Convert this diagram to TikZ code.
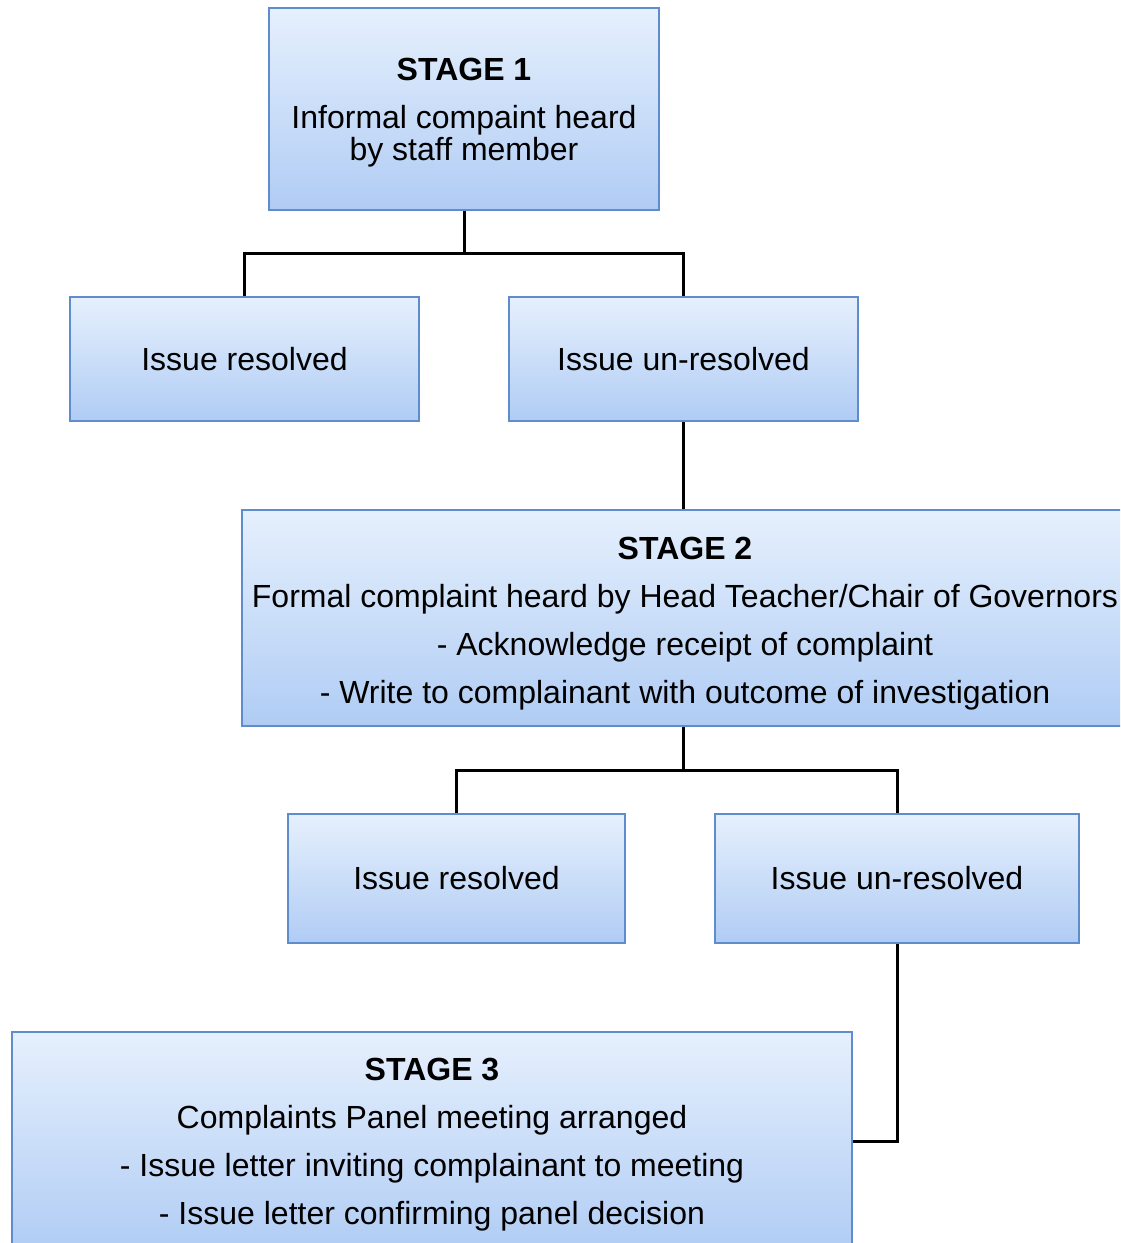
\documentclass[tikz,border=0pt]{standalone}
\usepackage{fontspec}
\setmainfont{Liberation Sans}
\usetikzlibrary{positioning}

\definecolor{boxtop}{RGB}{230,240,253}
\definecolor{boxbottom}{RGB}{176,204,244}
\definecolor{boxline}{RGB}{95,140,205}

\newcommand{\topgap}[1]{\rule{0pt}{#1}}

\begin{document}
\begin{tikzpicture}[x = 1pt, y = 1pt, node distance = 2cm, on grid,
	stagebox/.style={draw = boxline, line width = 2pt, top color = boxtop, bottom color = boxbottom, inner sep = 0pt, align = center, font = \fontsize{32}{48}\selectfont},
	link/.style={line width = 3pt, black}]
	\useasboundingbox (0,0) rectangle (1120,1243);
	\clip (0,0) rectangle (1120,1243);
	
	% stage 1
	\node[stagebox, minimum width = 390pt, minimum height = 202pt, font = \fontsize{32}{32}\selectfont] (S1) at (464,1134) {\topgap{30pt}\textbf{STAGE 1}\\[16pt]Informal compaint heard\\by staff member};
	\node[stagebox, minimum width = 349pt, minimum height = 124pt, below left = 250pt and 219.5pt of S1] (R1) {Issue resolved};
	\node[stagebox, minimum width = 349pt, minimum height = 124pt, right = 439pt of R1] (U1) {Issue un-resolved};
	
	% stage 2
	\node[stagebox, minimum width = 886pt, minimum height = 216pt] (S2) at (685,625) {\topgap{34pt}\textbf{STAGE 2}\\Formal complaint heard by Head Teacher/Chair of Governors\\- Acknowledge receipt of complaint\\- Write to complainant with outcome of investigation};
	\node[stagebox, minimum width = 337pt, minimum height = 129pt] (R2) at (456.5,364.5) {Issue resolved};
	\node[stagebox, minimum width = 364pt, minimum height = 129pt, right = 440.5pt of R2] (U2) {Issue un-resolved};
	
	% stage 3
	\node[stagebox, minimum width = 840pt, minimum height = 220pt] (S3) at (432,101) {\topgap{28pt}\textbf{STAGE 3}\\Complaints Panel meeting arranged\\- Issue letter inviting complainant to meeting\\- Issue letter confirming panel decision};
	
	\coordinate (J1) at (464,989);
	\coordinate (J2) at (683,472);
	
	\draw[link] (S1.south) -- (J1) -| (R1.north);
	\draw[link] (J1) -| (U1.north);
	\draw[link] (U1.south) -- (U1.south |- S2.north);
	\draw[link] (S2.south -| J2) -- (J2) -| (R2.north);
	\draw[link] (J2) -| (U2.north);
	\draw[link] (U2.south) |- (S3.east);
\end{tikzpicture}
\end{document}
